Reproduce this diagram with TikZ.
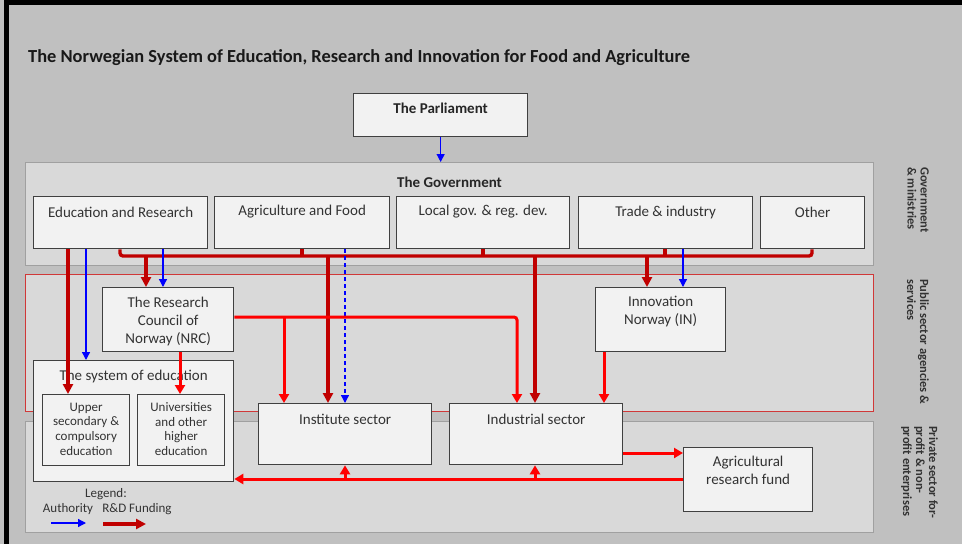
\documentclass[tikz,border=0pt]{standalone}
\usepackage{fontspec}
\setmainfont{Carlito}
\usetikzlibrary{arrows.meta}
\definecolor{bgray}{HTML}{C0C0C0}
\definecolor{panelfill}{HTML}{D9D9D9}
\definecolor{panelline}{HTML}{A0A0A0}
\definecolor{publine}{HTML}{D03838}
\definecolor{boxfill}{HTML}{F2F2F2}
\definecolor{boxline}{HTML}{404040}
\definecolor{txt}{HTML}{333333}
\definecolor{fundred}{HTML}{C00000}
\definecolor{rdred}{HTML}{FF0000}
\definecolor{authblue}{HTML}{0000FF}
\begin{document}
\begin{tikzpicture}[x=1pt,y=-1pt,
  panel/.style={draw=panelline, fill=panelfill, line width=1.1pt, inner sep=0pt, anchor=north west},
  box/.style={draw=boxline, fill=boxfill, line width=1.3pt, inner sep=0pt, anchor=north west},
  btxt/.style={anchor=center, inner sep=0pt, text=txt, align=center, font=\fontsize{15}{18}\selectfont},
  stxt/.style={anchor=center, inner sep=0pt, text=txt, align=center, font=\fontsize{13}{14.7}\selectfont},
  bold/.style={anchor=center, inner sep=0pt, text=black!85, font=\bfseries\fontsize{15}{18}\selectfont},
  sidelbl/.style={rotate=-90, anchor=north west, inner sep=0pt, align=left, text=black!80,
    font=\bfseries\fontsize{12.5}{13}\selectfont},
  legtxt/.style={anchor=center, inner sep=0pt, text=txt, font=\fontsize{13}{15}\selectfont},
  fund/.style={draw=fundred, line width=3.4pt, -{Triangle[length=10pt,width=10pt]}},
  fundline/.style={draw=fundred, line width=3.4pt, rounded corners=3pt},
  rfund/.style={draw=rdred, line width=3pt, rounded corners=3pt, -{Triangle[length=9pt,width=10pt]}},
  auth/.style={draw=authblue, line width=1.3pt, -{Triangle[length=8pt,width=8pt]}},
]
\useasboundingbox (0,0) rectangle (962,544);
% background and frame edges
\fill[bgray] (0,0) rectangle (962,544);
\fill[black] (4,0) rectangle (9,544);
\fill[black] (4,0) rectangle (962,5);

% title
\node[anchor=west, inner sep=0pt, text=black!90, font=\bfseries\fontsize{18.4}{21}\selectfont] (title) at (28,58)
  {The Norwegian System of Education, Research and Innovation for Food and Agriculture};

% sector panels
\node[panel, minimum width=848pt, minimum height=103pt,
  label={[bold, yshift=-20pt]north:The Government}] (govp) at (25,162) {};
\node[panel, draw=publine, line width=1.2pt, minimum width=848pt, minimum height=137pt] (pubp) at (25,274) {};
\node[panel, minimum width=848pt, minimum height=111pt] (privp) at (25,421) {};

% side captions
\node[sidelbl] (capgov) at (929,167) {Government\\\& ministries};
\node[sidelbl] (cappub) at (929,279) {Public sector agencies \&\\services};
\node[sidelbl] (cappriv) at (938,426) {Private sector for-\\profit \& non-\\profit enterprises};

% parliament and ministries
\node[box, minimum width=174pt, minimum height=43pt,
  label={[bold, yshift=-15pt]north:The Parliament}] (par) at (353,93) {};
\node[box, minimum width=174pt, minimum height=52pt,
  label={[btxt, yshift=-16pt]north:Education and Research}] (edu) at (33,196) {};
\node[box, minimum width=175pt, minimum height=52pt,
  label={[btxt, yshift=-16pt]north:Agriculture and Food}] (agri) at (214,196) {};
\node[box, minimum width=173pt, minimum height=52pt,
  label={[btxt, yshift=-16pt]north:Local gov. \& reg. dev.}] (loc) at (396,196) {};
\node[box, minimum width=174pt, minimum height=52pt,
  label={[btxt, yshift=-16pt]north:Trade \& industry}] (trade) at (578,196) {};
\node[box, minimum width=104pt, minimum height=52pt,
  label={[btxt, yshift=-16pt]north:Other}] (other) at (760,196) {};

% agencies
\node[box, minimum width=131pt, minimum height=64pt,
  label={[btxt, yshift=-34pt]north:The Research\\Council of\\Norway (NRC)}] (nrc) at (102,287) {};
\node[box, minimum width=130pt, minimum height=64pt,
  label={[btxt, yshift=-25pt]north:Innovation\\Norway (IN)}] (inn) at (595,287) {};

% performing sectors
\node[box, minimum width=200pt, minimum height=121pt,
  label={[btxt, yshift=-16pt]north:The system of education}] (soe) at (33,360) {};
\node[box, minimum width=87pt, minimum height=71pt,
  label={[stxt, yshift=-35pt]north:Upper\\secondary \&\\compulsory\\education}] (upp) at (42,394) {};
\node[box, minimum width=87pt, minimum height=71pt,
  label={[stxt, yshift=-35pt]north:Universities\\and other\\higher\\education}] (uni) at (137,394) {};
\node[box, minimum width=173pt, minimum height=61pt,
  label={[btxt, yshift=-16pt]north:Institute sector}] (inst) at (258,403) {};
\node[box, minimum width=173pt, minimum height=61pt,
  label={[btxt, yshift=-16pt]north:Industrial sector}] (ind) at (449,403) {};
\node[box, minimum width=129pt, minimum height=64pt,
  label={[btxt, yshift=-23.5pt]north:Agricultural\\research fund}] (fund) at (683,447) {};

% funding bus below the ministries
\coordinate (busL) at (120,256);
\coordinate (busR) at (812,256);
\coordinate (bAgri) at (302,256);
\coordinate (bLoc) at (483,256);
\coordinate (bTrade) at (665,256);
\coordinate (bNRC) at (146,256);
\coordinate (bInst) at (328,256);
\coordinate (bInd) at (535,256);
\coordinate (bInn) at (647,256);
\draw[fundline] (edu.south -| busL) -- (busL) -- (busR) -- (other.south -| busR);
\draw[fundline] (agri.south -| bAgri) -- (bAgri);
\draw[fundline] (loc.south -| bLoc) -- (bLoc);
\draw[fundline] (trade.south -| bTrade) -- (bTrade);
\draw[fund] (bNRC) -- (nrc.north -| bNRC);
\draw[fund] (bInst) -- (inst.north -| bInst);
\draw[fund] (bInd) -- (ind.north -| bInd);
\draw[fund] (bInn) -- (inn.north -| bInn);
\draw[fund] (edu.south -| 68,0) -- (upp.north -| 68,0);

% authority lines
\draw[auth] (par.south) -- (govp.north -| par.south);
\draw[auth] (edu.south -| 86,0) -- (soe.north -| 86,0);
\draw[auth] (edu.south -| 163,0) -- (nrc.north -| 163,0);
\draw[auth, dash pattern=on 4pt off 3pt] (agri.south -| 345,0) -- (inst.north -| 345,0);
\draw[auth] (trade.south -| 683,0) -- (inn.north -| 683,0);

% R&D funding from agencies and the fund
\coordinate (nrcR) at (517,317);
\coordinate (brInst) at (284,317);
\draw[rfund] (nrc.east |- nrcR) -| (ind.north -| nrcR);
\draw[rfund] (brInst) -- (inst.north -| brInst);
\draw[rfund] (nrc.south -| 180,0) -- (uni.north -| 180,0);
\draw[rfund] (inn.south -| 604,0) -- (ind.north -| 604,0);
\draw[rfund] (ind.east |- 0,453) -- (fund.west |- 0,453);
\draw[rfund] (fund.west |- 0,479) -- (soe.east |- 0,479);
\coordinate (upInst) at (345,479);
\coordinate (upInd) at (535,479);
\draw[rfund] (upInst) -- (inst.south -| upInst);
\draw[rfund] (upInd) -- (ind.south -| upInd);

% legend
\node[legtxt] (leg) at (106,494) {Legend:};
\node[legtxt] (legA) at (68,509) {Authority};
\node[legtxt] (legF) at (137,509) {R\&D Funding};
\coordinate (la1) at (51,523);
\coordinate (la2) at (86,523);
\coordinate (lf1) at (103,524);
\coordinate (lf2) at (146,524);
\draw[auth] (la1) -- (la2);
\draw[fund] (lf1) -- (lf2);
\end{tikzpicture}
\end{document}
